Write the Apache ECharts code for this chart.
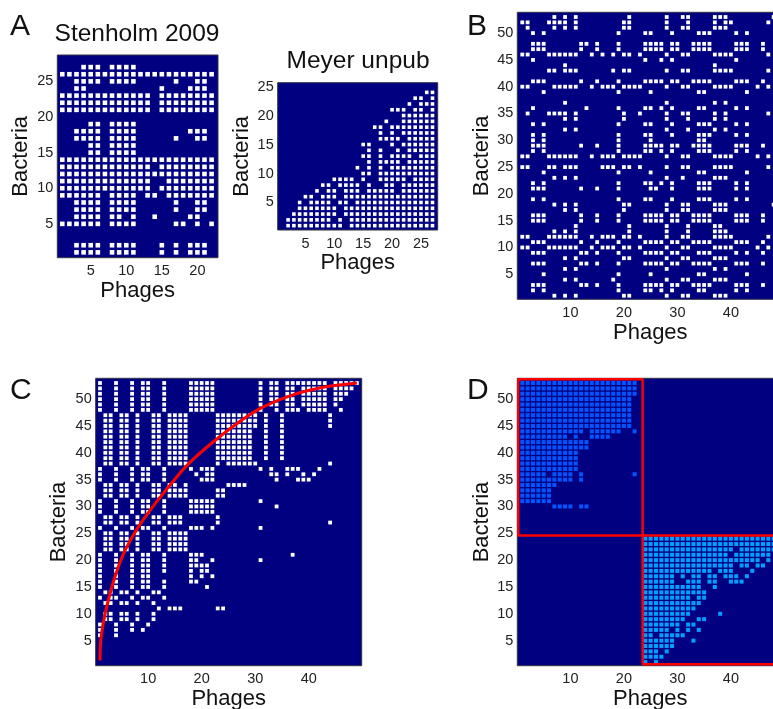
<!DOCTYPE html>
<html><head><meta charset="utf-8">
<style>html,body{margin:0;padding:0;background:#fff;overflow:hidden}#c{width:773px;height:709px}</style>
<script src="https://cdn.jsdelivr.net/npm/echarts@6/dist/echarts.min.js"></script>
</head><body><div id="c"></div>
<script>
// Each row lists the occupied phage columns; first entry = highest bacteria index.
const stenholmRows = [
 '4-6 8-11','1-22','3-6 8-11 17 20 21','3 4 15 19-21','1-13 15-22','1-13 15-22','1-13 15-22','',
 '5 6 8-11','3-6 8-11 19-21','3-6 8-11 17 20 21','5 6 8-11','5 6 8-11','1-22','1-13 15-22','1-22',
 '1-13 16-22','1-13 15-22','1-6 8-11 13 14 16-22','3-6 8-11 17 20 21','3-6 8-11 17 20 21',
 '3-6 8 9 11 14 19 20','1-6 8-11 17 18 20 22','','','3-6 8-11 15 17 19-21','3-6 8-11 15 17 19-21'
];
const meyerRows = [
 '26 27','24 25 27','23 25-27','20-22 24 25 27','22-27','19 22-27','17 18 20-27','18 20 22-27','18-21 23-27',
 '15 16 20 22-27','16 18 21 23-27','15 16 18 20-23 25-27','16 18-21 23-27','14 16 18 20-27','15 16 18-27',
 '10-13 15 18-22 24-27','8 9 11-14 16 19 20 22-27','7 9 10 12-14 16-20 22-27','5 6 8-10 12-27',
 '4 6-9 11 12 14-27','4-10 12-27','3-10 12-27','2-9 11 13-27','2-11 13-27'
];
const bRows = [
 '7 9 11 21 28 31 32 37-39 48','1 2 6-9 11 20 21 28 32 37 39 40 47','2 7 9 11 20 21 28 31 32 37-39',
 '3 5 19 24 25 29 34-36 41 43','','3-5 12 13 15 19 24-27 29 30 33-36 41-43 46','3-5 12 15 19 24-27 29 30 33-36 41-43 46',
 '1 2 6-11 14 16 18 20 21 23 28 31 32 37-40 47','3 24 27 29 41','9 37','6 7 9-11 18 20 21 28 31 32 37-40 47','',
 '3-5 12 15 19 24-27 29 30 33-36 41-43 46','1 2 7-11 14 16-18 20-23 28 31 32 37-40 45 47','5 19 25 34 35 43','',
 '9 28 37 39','3 13 19 24 25 27 29 34 35 41 43','2 6-9 11 20 23 28 31 32 37 39 47','9 11 20 28 32 37 39',
 '3 5 19 24 25 29 34-36 41 43','9 11 28 32 37 39','3 5 19 24 25 29 34-36 41 43','3 5 19 25 34 35',
 '3-5 12 15 19 24-27 29 30 33-36 41-43 46','3 5 19 24 25 27 29 34-36 41 43','1 2 6-11 14 16-18 20-23 28 31 32 37-40 45 47','',
 '1 2 6 7 9-11 16-18 20 21 23 28 31 32 37-40 47','5 19 25 34 35 43','7 9 11 28 31 37-39','3 5 19 24 25 27 29 34-36 41 43',
 '3-5 12 15 19 25 26 29 34-36 41 43','','3 5 19 24 25 29 34-36 41 43','7 9 11 20 21 28 31 32 37-39 48','9 11 20 28 31 32 37-39',
 '3-5 12 15 19 24-27 29 30 33-36 41-43 46','3-5 12 15 19 24-27 29 30 33-36 41-43 46','11 21 28 32 37 38','7 9 11 21 28 32 37-39',
 '1 2 6-11 14 16-18 20 21 23 28 31 32 37-40 47','3-5 12 15 19 24-27 29 30 33-36 41-43 46','1 2 6-11 14 16-18 20 21 23 28 31 32 37-40 45 47',
 '3-5 12 13 15 19 24-27 29 30 34-36 41 43 46','9 11 20 21 28 31 32 37-39','3-5 12 13 15 19 24-27 29 30 33-36 41-43 46','9 11 28 37 39',
 '5 19 25 34 35 43','9 11 18 28 31 32 37-39','3-5 12 13 15 19 24-27 29 30 33-36 41-43 46','3 5 19 24 25 27 29 34 35 41 43','7 9 11 20 21 28 31 32 37-39'
];
const cRows = [
 '1 4 7 9 10 13 18-22 31 33 34 36-43 45-49','1 4 7 9 10 13 18-22 31 33 34 36 37 39-43 45-48','1 4 7 9 10 13 18-22 31 33 34 36 37 39-43 45-47',
 '1 4 7 9 10 13 18-22 31 33 34 36 37 39-43 45 46','1 4 7 9 10 13 18-22 31 33 34 36 37 39-43 45','1 4 7 9 10 13 18-22 31 34 36-38 40-43 46',
 '2 3 5 6 8 11 12 14-17 23-30 32 35 44','2 3 5 6 8 11 12 14-17 23-30 32 35 44','2 3 5 6 8 11 12 14-17 23-30 32 35 44',
 '2 3 5 6 8 11 12 14-17 23-29 32 35','2 3 5 6 8 11 12 14-17 23-29 32 35','2 3 5 6 8 11 12 14-17 23-29 32 35','2 3 5 6 8 11 12 14-17 23-29 32 35',
 '2 3 5 6 8 11 12 14-17 23-29 32 35','2 3 5 6 8 11 12 14-17 23-29 32 35','2 3 5 6 8 11 12 14-17 23 25-30 44',
 '1 4 7 9 10 13 18 20-22 31 33 36-38 42','1 4 7 9 10 13 19 21 22 33 34 36 39 41','1 4 7 9 10 13 20-22 34 38-40',
 '2 3 5 6 8 11 12 14 15 17 25-28','2 3 5 6 8 11 12 14-17 23 24','2 3 5 6 8 11 12 14-17 23 24',
 '1 4 7 9 10 13 18-22 31','1 4 7 9 10 13 18-22 34','1 4 7 9 10 13 18-22','2 3 5 6 8 11 12 14-16 23','2 3 5 6 8 11 12 14-16 23 44',
 '1 4 7 9 10 13 18-20 22 31','2 3 5 6 8 11 12 14-17','2 3 5 6 8 11 12 14-17','2 3 5 6 8 11 12 14-17','2 3 5 6 8 11 12 14-17',
 '1 4 7 9 10 13 18-20 37','1 4 7 9 10 13 18 19 22 31','1 4 7 9 10 13 18-21','1 4 7 9 10 13 18 20 21','1 4 7 9 10 18 20 22','1 4 7 9 10 13 18 19',
 '1 4 7 9 10 13 21','2 3 5 6 8 11 12','1 3 4 7 9 10 13','2 3 5 6 8 11','12 14-16 23 24','2 3 5 6 8 11','2 3 5 6 8 11','1 4 7 10','1 4 7 9','1 4','','','','',''
];
const dUpperRows = [
 '1-22','1-22','1-22','1-21','1-21','1-21','1-21','1-21','1-21','1-12 14-19 22','1-9 11 14-17','1-13','1-13','1-11','1-11','1-11','1-11',
 '1-5 7-10 12 22','1-10 12','1-7','1-6','1-6','1-6','7-10 12 13'
];
const dLowerRows = [
 '24-49','24-48','24-40 42-48','24-39 41-47','24-45 47','24-40 42 43 45 46','24-36 38-40 44','24-29 31 33 34 36 37 39-41 43',
 '24-29 32-34 36 37 40-42','24-34 37','24-35','24-32 34 35','24-34','24-33','24-32 38','24-31 34 35','24-30 32 33','24-28 30 32 34',
 '24 25 27-31','24-29 33','24-29','24-26 28','24-27','24 26'
];
const curveC = [[1,1.3],[1.1,4.5],[1.5,7.6],[2.25,11.3],[3.8,16.9],[5.4,21.2],[7.2,24.6],[9,27.4],[11.6,30.9],[14.1,34],[17.8,38.2],[24,43.5],[30.3,47.9],[36.5,50.6],[42.7,52.2],[49,53]];
const moduleOne = [[0.25,53.7],[23.5,53.7],[23.5,24.6],[0.25,24.6],[0.25,53.7]];
const moduleTwo = [[23.5,24.6],[49.7,24.6],[49.7,0.6],[23.5,0.6],[23.5,24.6]];
const ticksNarrow = [5,10,15,20];
const ticksMeyerX = [5,10,15,20,25];
const ticksStenY = [5,10,15,20,25];
const ticksMeyerY = [5,10,15,20,25];
const ticksWideX = [10,20,30,40];
const ticksWideY = [5,10,15,20,25,30,35,40,45,50];

const points = (rows, topRow) => {
  const out = [];
  rows.forEach((r, i) => {
    const y = topRow - i;
    r.split(' ').filter(Boolean).forEach(t => {
      const [a, b] = t.split('-').map(Number);
      for (let x = a; x <= (b || a); x++) out.push([x, y]);
    });
  });
  return out;
};

const font = '"Liberation Sans", Arial, sans-serif';
const panels = [
 {g:{left:57.3,top:55,width:160.7,height:202.7}, x:[0.3,22.9], y:[0.25,28.7], xt:ticksNarrow, yt:ticksStenY, xg:22, yg:25},
 {g:{left:277.7,top:82.7,width:160,height:147.3}, x:[0.2,27.9], y:[0.25,25.67], xt:ticksMeyerX, yt:ticksMeyerY, xg:22, yg:25},
 {g:{left:517.3,top:12.3,width:266,height:287}, x:[0.07,49.8], y:[0.33,53.88], xt:ticksWideX, yt:ticksWideY, xg:23, yg:24},
 {g:{left:95.7,top:378.3,width:266,height:287.4}, x:[0.2,49.9], y:[0.33,53.88], xt:ticksWideX, yt:ticksWideY, xg:22, yg:26},
 {g:{left:517.3,top:378.3,width:266,height:287.4}, x:[0.07,49.8], y:[0.33,53.88], xt:ticksWideX, yt:ticksWideY, xg:22, yg:24}
];
const grid = panels.map(p => ({...p.g, show:true, backgroundColor:'#000080', borderWidth:1, borderColor:'#333344', containLabel:false, outerBoundsMode:'none'}));
const lab = (v, m) => ({color:'#222', fontSize:14.5, fontFamily:font, customValues:v, margin:m});
const nameStyle = {color:'#111', fontSize:22, fontFamily:font};
const xAxis = panels.map((p,i) => ({type:'value', gridIndex:i, min:p.x[0], max:p.x[1], name:'Phages', nameLocation:'middle', nameGap:p.xg, nameTextStyle:nameStyle,
  axisLine:{show:false}, axisTick:{show:false}, splitLine:{show:false}, axisLabel:lab(p.xt, 6)}));
const yAxis = panels.map((p,i) => ({type:'value', gridIndex:i, min:p.y[0], max:p.y[1], name:'Bacteria', nameLocation:'middle', nameGap:p.yg, nameTextStyle:nameStyle,
  axisLine:{show:false}, axisTick:{show:false}, splitLine:{show:false}, axisLabel:lab(p.yt, 4)}));
const cells = (i, data, size, color) => ({type:'scatter', xAxisIndex:i, yAxisIndex:i, data, symbol:'rect', symbolSize:size, itemStyle:{color, opacity:1}, silent:true, animation:false, clip:true, large:false});
const redLine = (i, data, w, smooth) => ({type:'line', xAxisIndex:i, yAxisIndex:i, data, smooth:smooth, showSymbol:false, symbol:'none', lineStyle:{color:'#ff0000', width:w}, silent:true, animation:false, clip:false, z:5});
const series = [
  cells(0, points(stenholmRows, 27), 4.6, '#fff'),
  cells(1, points(meyerRows, 24), 3.6, '#fff'),
  cells(2, points(bRows, 53), 3.8, '#fff'),
  cells(3, points(cRows, 53), 3.8, '#fff'),
  redLine(3, curveC, 3, 0.3),
  cells(4, points(dUpperRows, 53), 4, '#0055ff'),
  cells(4, points(dLowerRows, 24), 4, '#00a0ff'),
  redLine(4, moduleOne, 2.4, false),
  redLine(4, moduleTwo, 2.4, false)
];
const letters = [['A',10,12],['B',467,12],['C',10,376],['D',467,376]];
const titles = [
  {text:'Stenholm 2009', left:137, top:22, padding:0, textAlign:'center', textStyle:{fontFamily:font, fontSize:24.5, fontWeight:'normal', color:'#111'}},
  {text:'Meyer unpub', left:358, top:49, padding:0, textAlign:'center', textStyle:{fontFamily:font, fontSize:24.5, fontWeight:'normal', color:'#111'}},
  ...letters.map(l => ({text:l[0], left:l[1], top:l[2], padding:0, textStyle:{fontFamily:font, fontSize:30, fontWeight:'normal', color:'#111'}}))
];
const chart = echarts.init(document.getElementById('c'), null, {renderer:'canvas', width:773, height:709});
chart.setOption({animation:false, backgroundColor:'#fff', title:titles, grid, xAxis, yAxis, series});
</script></body></html>
